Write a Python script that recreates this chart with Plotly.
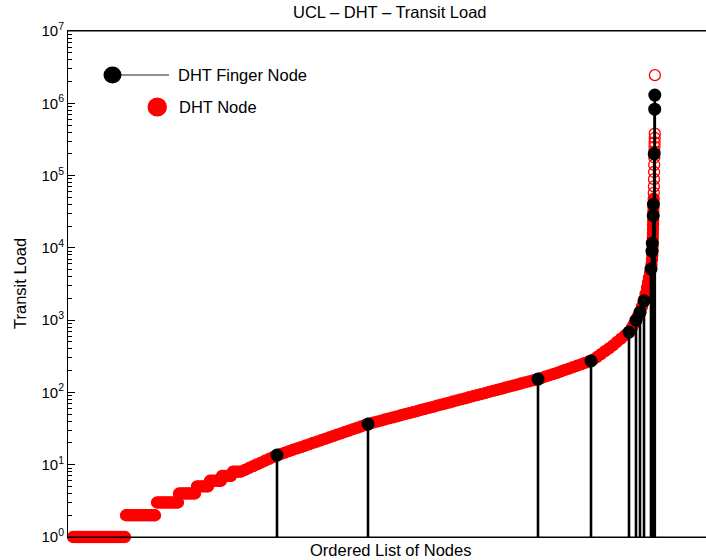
import plotly.graph_objects as go

# ---------------- data ----------------
TITLE = "UCL – DHT – Transit Load"
X_LABEL = "Ordered List of Nodes"
Y_LABEL = "Transit Load"
LEGEND_FINGER = "DHT Finger Node"
LEGEND_NODE = "DHT Node"

# integer-load plateaus of the ordered node list: (first rank, last rank, load)
node_plateaus = [
    (1, 521, 1), (531, 821, 2), (841, 1051, 3), (1061, 1221, 4),
    (1241, 1351, 5), (1371, 1481, 6), (1491, 1581, 7), (1601, 1681, 8),
]

# remaining DHT nodes: (rank, transit load)
node_curve = [
    (1721, 8.5), (1761, 9.0), (1801, 9.55), (1841, 10.1), (1881, 10.7),
    (1921, 11.35), (1961, 12.0), (2001, 12.7), (2041, 13.5),
    (2081, 14.1), (2121, 14.7), (2161, 15.4), (2201, 16.1), (2241, 16.8),
    (2281, 17.5), (2321, 18.3), (2361, 19.1), (2401, 20.0), (2441, 20.9),
    (2481, 21.8), (2521, 22.8), (2561, 23.8), (2601, 24.9), (2641, 26.0),
    (2681, 27.2), (2721, 28.4), (2761, 29.6), (2801, 31.0), (2841, 32.4),
    (2881, 33.8), (2921, 35.3), (2961, 36.9),
    (3001, 38.2), (3041, 39.5), (3081, 40.8), (3121, 42.2), (3161, 43.7),
    (3201, 45.2), (3241, 46.7), (3281, 48.3), (3321, 50.0), (3361, 51.7),
    (3401, 53.5), (3441, 55.3), (3481, 57.2), (3521, 59.2), (3561, 61.2),
    (3601, 63.3), (3641, 65.5), (3681, 67.7), (3721, 70.0), (3761, 72.4),
    (3801, 74.9), (3841, 77.5), (3881, 80.1), (3921, 82.9), (3961, 85.7),
    (4001, 88.7), (4041, 91.7), (4081, 94.9), (4121, 98.1), (4161, 101.5),
    (4201, 104.9), (4241, 108.5), (4281, 112.3), (4321, 116.1), (4361, 120.1),
    (4401, 124.2), (4441, 128.5), (4481, 132.9), (4521, 137.4), (4561, 142.1),
    (4601, 147.0), (4641, 152.0),
    (4681, 158), (4721, 165), (4761, 172), (4801, 179), (4841, 187),
    (4881, 196), (4921, 205), (4961, 214), (5001, 224), (5041, 234),
    (5081, 245), (5121, 257), (5161, 268), (5181, 272), (5201, 285),
    (5241, 309), (5281, 339), (5321, 372), (5361, 407), (5401, 447),
    (5441, 501), (5481, 556), (5521, 617), (5561, 684), (5591, 794),
    (5611, 891), (5631, 1000), (5651, 1135), (5671, 1288), (5691, 1549),
    (5711, 1897), (5726, 2290), (5741, 2818), (5751, 3311), (5761, 3890),
    (5771, 4467), (5781, 5093), (5786, 5888), (5791, 6918), (5794, 7943),
    (5796, 9120), (5797, 10470), (5798, 12020), (5799, 13800), (5800, 15850),
    (5801, 18200), (5802, 20900), (5803, 24000), (5804, 27540), (5805, 31620),
    (5806, 36300), (5807, 41690), (5808, 47860),
    (5809, 57500), (5810, 70800), (5811, 89100), (5812, 112000), (5813, 141000),
    (5814, 178000), (5815, 214000), (5816, 251000), (5817, 288000),
    (5818, 331000), (5819, 380000), (5820, 2450000),
]

# DHT finger nodes: rank and transit load
finger_ranks = [2041, 2951, 4651, 5181, 5561, 5631, 5671, 5711, 5781, 5791,
                5794, 5803, 5805, 5813, 5818, 5819]
finger_loads = [13.6, 36.5, 153, 272, 684, 1000, 1290, 1850, 5100, 9000,
                11600, 28000, 40000, 200000, 830000, 1300000]

y_tick_values = [1, 10, 100, 1e3, 1e4, 1e5, 1e6, 1e7]
y_tick_labels = ["10<sup>%d</sup>" % k for k in range(8)]

# ---------------- build ----------------
node_x, node_y = [], []
for first, last, load in node_plateaus:
    r = first
    while r < last:
        node_x.append(r)
        node_y.append(load)
        r += 20
    node_x.append(last)
    node_y.append(load)
for r, v in node_curve:
    node_x.append(r)
    node_y.append(v)

SPARSE_ABOVE = 5e4
symbols = ["circle-open" if v >= SPARSE_ABOVE else "circle" for v in node_y]

stem_x, stem_y = [], []
for r, v in zip(finger_ranks, finger_loads):
    stem_x += [r, r, None]
    stem_y += [1, v, None]

FONT = "Liberation Sans, Arial, Helvetica, sans-serif"
W, H = 706, 560
L, R, T, B = 68, 0, 31, 23
PW, PH = W - L - R, H - T - B


def px(x):
    return (x - L) / PW


def py(y):
    return (H - B - y) / PH


fig = go.Figure()
fig.add_trace(go.Scatter(
    x=node_x, y=node_y, mode="markers", name=LEGEND_NODE, showlegend=False,
    cliponaxis=False,
    marker=dict(symbol=symbols, size=11, color="#ff0000",
                line=dict(color="#ff0000", width=1.3)),
))
fig.add_trace(go.Scatter(
    x=stem_x, y=stem_y, mode="lines", showlegend=False, cliponaxis=False,
    line=dict(color="black", width=2.6), hoverinfo="skip",
))
fig.add_trace(go.Scatter(
    x=finger_ranks, y=finger_loads, mode="markers", name=LEGEND_FINGER,
    showlegend=False, cliponaxis=False,
    marker=dict(symbol="circle", size=13, color="black"),
))

shapes = [
    # box lines running out to the right edge of the figure
    dict(type="line", xref="paper", yref="paper", x0=0, x1=1, y0=1, y1=1,
         line=dict(color="black", width=1), layer="above"),
    dict(type="line", xref="paper", yref="paper", x0=0, x1=1, y0=0, y1=0,
         line=dict(color="black", width=1), layer="above"),
    # MATLAB-style legend (marker at the left end of the stem line)
    dict(type="line", xref="paper", yref="paper", x0=px(121), x1=px(169),
         y0=py(75), y1=py(75), line=dict(color="#222222", width=1)),
    dict(type="circle", xref="paper", yref="paper", x0=px(103.5), x1=px(121.5),
         y0=py(83.5), y1=py(66.5), fillcolor="black", line=dict(width=0)),
    dict(type="circle", xref="paper", yref="paper", x0=px(147.5), x1=px(167),
         y0=py(116.5), y1=py(97.5), fillcolor="#ff0000", line=dict(width=0)),
]

annotations = [
    dict(text=TITLE, xref="paper", yref="paper", x=px(390), y=py(12),
         xanchor="center", yanchor="middle", showarrow=False,
         font=dict(family=FONT, size=16.5, color="black")),
    dict(text=X_LABEL, xref="paper", yref="paper", x=px(390), y=py(550),
         xanchor="center", yanchor="middle", showarrow=False,
         font=dict(family=FONT, size=16.5, color="black")),
    dict(text=Y_LABEL, xref="paper", yref="paper", x=px(20), y=py(284),
         xanchor="center", yanchor="middle", showarrow=False, textangle=-90,
         font=dict(family=FONT, size=16.5, color="black")),
    dict(text=LEGEND_FINGER, xref="paper", yref="paper", x=px(176), y=py(75),
         xanchor="left", yanchor="middle", showarrow=False,
         font=dict(family=FONT, size=16.5, color="black")),
    dict(text=LEGEND_NODE, xref="paper", yref="paper", x=px(177), y=py(107),
         xanchor="left", yanchor="middle", showarrow=False,
         font=dict(family=FONT, size=16.5, color="black")),
]

fig.update_layout(
    width=W, height=H,
    margin=dict(l=L, r=R, t=T, b=B, pad=0),
    paper_bgcolor="white", plot_bgcolor="white",
    showlegend=False,
    shapes=shapes, annotations=annotations,
    font=dict(family=FONT, color="black"),
    xaxis=dict(range=[-49, 6331], showgrid=False, zeroline=False,
               showticklabels=False, ticks="", showline=True, mirror=True,
               linecolor="black", linewidth=1, layer="above traces"),
    yaxis=dict(type="log", range=[0, 7], showgrid=False, zeroline=False,
               tickmode="array", tickvals=y_tick_values, ticktext=y_tick_labels,
               ticks="inside", ticklen=7, tickcolor="black", tickwidth=1,
               minor=dict(ticks="inside", ticklen=4, tickcolor="black",
                          dtick="D1", showgrid=False),
               showline=True, mirror=False, linecolor="black", linewidth=1,
               tickfont=dict(family=FONT, size=15, color="black"),
               layer="above traces"),
)

fig.write_html(
    "out.html",
    config={"displayModeBar": False, "responsive": False},
    post_script=(
        "document.documentElement.style.overflow='hidden';"
        "document.body.style.margin='0';"
        "document.body.style.overflow='hidden';"
    ),
)
